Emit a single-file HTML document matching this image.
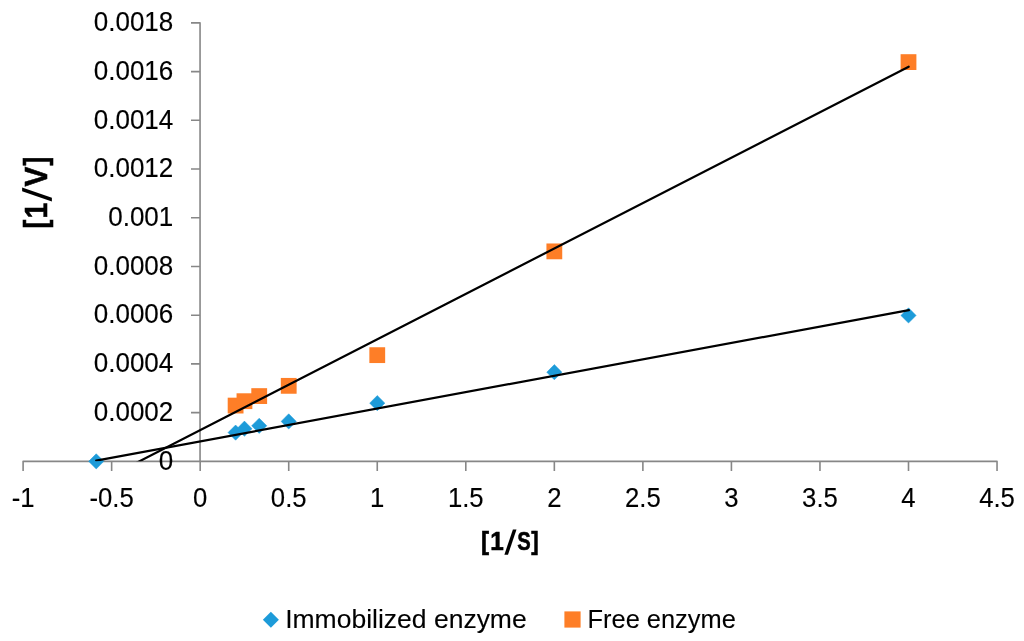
<!DOCTYPE html><html><head><meta charset="utf-8"><style>html,body{margin:0;padding:0;background:#fff;}svg{display:block;will-change:transform;}text{font-family:"Liberation Sans",sans-serif;fill:#000;stroke:#000;stroke-width:0.15px;}</style></head><body>
<svg width="1024" height="641" viewBox="0 0 1024 641">
<rect width="1024" height="641" fill="#fff"/>
<path d="M191 22.88 H200.05 V461.36 M191 461.36 H200.05 M191 412.64 H200.05 M191 363.92 H200.05 M191 315.20 H200.05 M191 266.48 H200.05 M191 217.76 H200.05 M191 169.04 H200.05 M191 120.32 H200.05 M191 71.60 H200.05 M23.10 471 V461.36 H997.04 V471 M111.64 461.36 V471 M200.18 461.36 V471 M288.72 461.36 V471 M377.26 461.36 V471 M465.80 461.36 V471 M554.34 461.36 V471 M642.88 461.36 V471 M731.42 461.36 V471 M819.96 461.36 V471 M908.50 461.36 V471" stroke="#878787" stroke-width="1.6" fill="none" stroke-linejoin="round"/>
<g id="txt">
<text x="173.3" y="469.56" font-size="27.5" text-anchor="end" textLength="14.46" lengthAdjust="spacingAndGlyphs">0</text>
<text x="173.3" y="420.84" font-size="27.5" text-anchor="end" textLength="79.52" lengthAdjust="spacingAndGlyphs">0.0002</text>
<text x="173.3" y="372.12" font-size="27.5" text-anchor="end" textLength="79.52" lengthAdjust="spacingAndGlyphs">0.0004</text>
<text x="173.3" y="323.40" font-size="27.5" text-anchor="end" textLength="79.52" lengthAdjust="spacingAndGlyphs">0.0006</text>
<text x="173.3" y="274.68" font-size="27.5" text-anchor="end" textLength="79.52" lengthAdjust="spacingAndGlyphs">0.0008</text>
<text x="173.3" y="225.96" font-size="27.5" text-anchor="end" textLength="65.06" lengthAdjust="spacingAndGlyphs">0.001</text>
<text x="173.3" y="177.24" font-size="27.5" text-anchor="end" textLength="79.52" lengthAdjust="spacingAndGlyphs">0.0012</text>
<text x="173.3" y="128.52" font-size="27.5" text-anchor="end" textLength="79.52" lengthAdjust="spacingAndGlyphs">0.0014</text>
<text x="173.3" y="79.80" font-size="27.5" text-anchor="end" textLength="79.52" lengthAdjust="spacingAndGlyphs">0.0016</text>
<text x="173.3" y="31.08" font-size="27.5" text-anchor="end" textLength="79.52" lengthAdjust="spacingAndGlyphs">0.0018</text>
<text x="23.10" y="507.2" font-size="27" text-anchor="middle" textLength="22.85" lengthAdjust="spacingAndGlyphs">-1</text>
<text x="111.64" y="507.2" font-size="27" text-anchor="middle" textLength="44.29" lengthAdjust="spacingAndGlyphs">-0.5</text>
<text x="200.18" y="507.2" font-size="27" text-anchor="middle" textLength="14.29" lengthAdjust="spacingAndGlyphs">0</text>
<text x="288.72" y="507.2" font-size="27" text-anchor="middle" textLength="35.73" lengthAdjust="spacingAndGlyphs">0.5</text>
<text x="377.26" y="507.2" font-size="27" text-anchor="middle" textLength="14.29" lengthAdjust="spacingAndGlyphs">1</text>
<text x="465.80" y="507.2" font-size="27" text-anchor="middle" textLength="35.73" lengthAdjust="spacingAndGlyphs">1.5</text>
<text x="554.34" y="507.2" font-size="27" text-anchor="middle" textLength="14.29" lengthAdjust="spacingAndGlyphs">2</text>
<text x="642.88" y="507.2" font-size="27" text-anchor="middle" textLength="35.73" lengthAdjust="spacingAndGlyphs">2.5</text>
<text x="731.42" y="507.2" font-size="27" text-anchor="middle" textLength="14.29" lengthAdjust="spacingAndGlyphs">3</text>
<text x="819.96" y="507.2" font-size="27" text-anchor="middle" textLength="35.73" lengthAdjust="spacingAndGlyphs">3.5</text>
<text x="908.50" y="507.2" font-size="27" text-anchor="middle" textLength="14.29" lengthAdjust="spacingAndGlyphs">4</text>
<text x="997.04" y="507.2" font-size="27" text-anchor="middle" textLength="35.73" lengthAdjust="spacingAndGlyphs">4.5</text>
<path d="M504.4 554.7 L508.0 554.7 L516.5 529.5 L512.9 529.5Z" fill="#000"/>
<text transform="translate(485.6 549.5) scale(0.923 1)" x="-4.94" y="0" font-size="26.2" font-weight="bold" style="stroke-width:0.6px">[</text>
<text transform="translate(497.55 550.2) scale(0.927 1)" x="-7.75" y="0" font-size="26.2" font-weight="bold" style="stroke-width:0.6px">1</text>
<text transform="translate(523.75 550.2) scale(0.771 1)" x="-8.60" y="0" font-size="26.2" font-weight="bold" style="stroke-width:0.6px">S</text>
<text transform="translate(534.55 549.5) scale(0.851 1)" x="-3.79" y="0" font-size="26.2" font-weight="bold" style="stroke-width:0.6px">]</text>
<path d="M22.1 187.4 L22.1 191.2 L51.9 201.6 L51.9 197.8Z" fill="#000"/>
<text transform="translate(45.9 223.6) rotate(-90) scale(0.840 1)" x="-5.94" y="0" font-size="31.5" font-weight="bold" style="stroke-width:0.6px">[</text>
<text transform="translate(47.1 209.95) rotate(-90) scale(0.907 1)" x="-9.31" y="0" font-size="31.5" font-weight="bold" style="stroke-width:0.6px">1</text>
<text transform="translate(47.1 176.55) rotate(-90) scale(0.938 1)" x="-10.51" y="0" font-size="31.5" font-weight="bold" style="stroke-width:0.6px">V</text>
<text transform="translate(45.9 161.6) rotate(-90) scale(0.840 1)" x="-4.55" y="0" font-size="31.5" font-weight="bold" style="stroke-width:0.6px">]</text>
<text x="285.2" y="627.8" font-size="25.4" style="stroke-width:0.1px" textLength="241.5" lengthAdjust="spacingAndGlyphs">Immobilized enzyme</text>
<text x="587.6" y="627.8" font-size="25.4" style="stroke-width:0.1px" textLength="148.2" lengthAdjust="spacingAndGlyphs">Free enzyme</text>
</g>
<path d="M96.23 453.76 L103.83 461.36 L96.23 468.96 L88.63 461.36Z" fill="#1d9bd9" stroke="#1d9bd9" stroke-width="0.5" stroke-linejoin="round"/>
<path d="M235.60 425.02 L243.20 432.62 L235.60 440.22 L228.00 432.62Z" fill="#1d9bd9" stroke="#1d9bd9" stroke-width="0.5" stroke-linejoin="round"/>
<path d="M244.45 421.12 L252.05 428.72 L244.45 436.32 L236.85 428.72Z" fill="#1d9bd9" stroke="#1d9bd9" stroke-width="0.5" stroke-linejoin="round"/>
<path d="M259.21 418.19 L266.81 425.79 L259.21 433.39 L251.61 425.79Z" fill="#1d9bd9" stroke="#1d9bd9" stroke-width="0.5" stroke-linejoin="round"/>
<path d="M288.72 413.81 L296.32 421.41 L288.72 429.01 L281.12 421.41Z" fill="#1d9bd9" stroke="#1d9bd9" stroke-width="0.5" stroke-linejoin="round"/>
<path d="M377.26 395.54 L384.86 403.14 L377.26 410.74 L369.66 403.14Z" fill="#1d9bd9" stroke="#1d9bd9" stroke-width="0.5" stroke-linejoin="round"/>
<path d="M554.34 364.60 L561.94 372.20 L554.34 379.80 L546.74 372.20Z" fill="#1d9bd9" stroke="#1d9bd9" stroke-width="0.5" stroke-linejoin="round"/>
<path d="M908.50 307.84 L916.10 315.44 L908.50 323.04 L900.90 315.44Z" fill="#1d9bd9" stroke="#1d9bd9" stroke-width="0.5" stroke-linejoin="round"/>
<rect x="227.70" y="397.68" width="15.80" height="15.80" fill="#fe7e27"/>
<rect x="236.55" y="393.29" width="15.80" height="15.80" fill="#fe7e27"/>
<rect x="251.31" y="388.18" width="15.80" height="15.80" fill="#fe7e27"/>
<rect x="280.82" y="377.94" width="15.80" height="15.80" fill="#fe7e27"/>
<rect x="369.36" y="347.25" width="15.80" height="15.80" fill="#fe7e27"/>
<rect x="546.44" y="243.48" width="15.80" height="15.80" fill="#fe7e27"/>
<rect x="900.60" y="54.20" width="15.80" height="15.80" fill="#fe7e27"/>
<clipPath id="pc"><rect x="0" y="0" width="1024" height="461.36"/></clipPath>
<g clip-path="url(#pc)" stroke="#000" stroke-width="2.2" fill="none" stroke-linecap="round">
<path d="M96.2 460.6 L908.9 310.1"/>
<path d="M134.00 464.08 L908.7 66.7"/>
</g>
<path d="M270.9 611.75 L278.9 619.75 L270.9 627.75 L262.9 619.75Z" fill="#1d9bd9"/>
<rect x="564.4" y="611.4" width="16.2" height="16.2" fill="#fe7e27"/>
</svg></body></html>
